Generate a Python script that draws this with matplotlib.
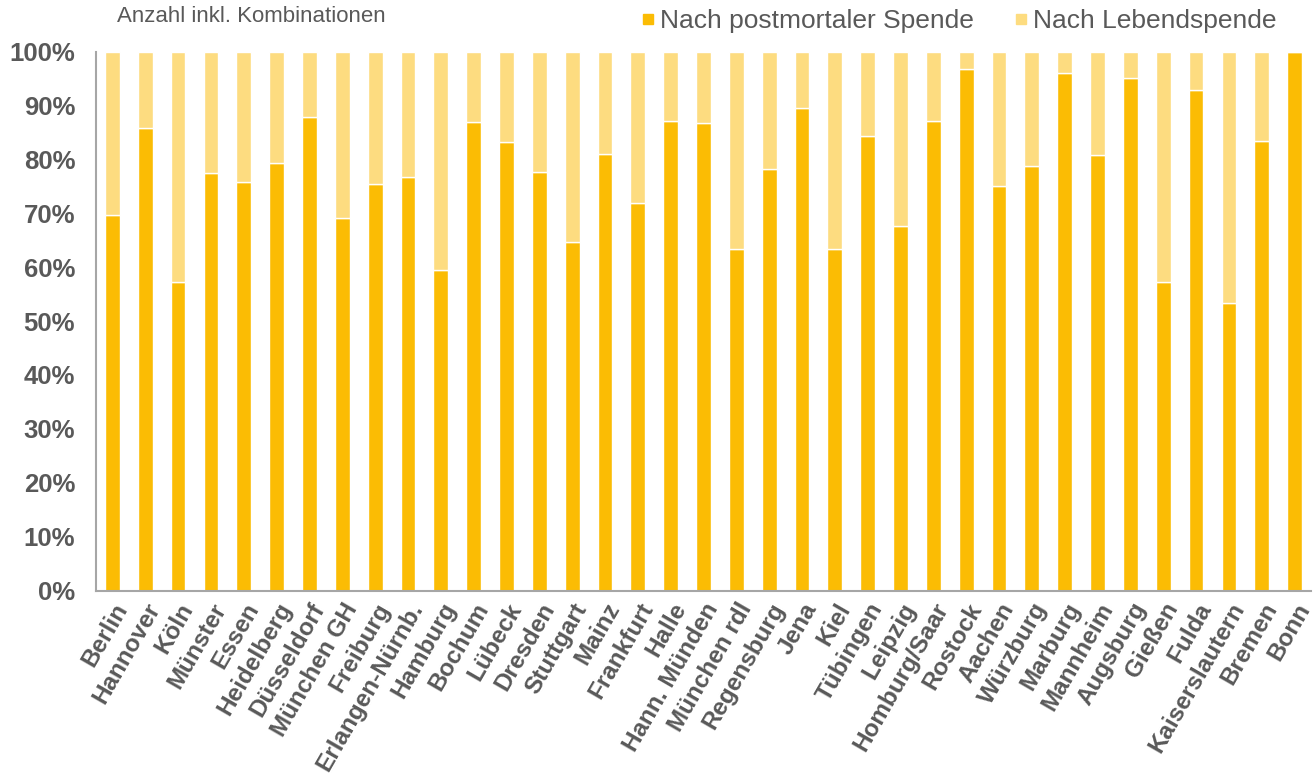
import matplotlib
matplotlib.use("Agg")
import matplotlib.pyplot as plt
from matplotlib.lines import Line2D
from matplotlib.ticker import PercentFormatter

categories = ["Berlin", "Hannover", "Köln", "Münster", "Essen", "Heidelberg", "Düsseldorf",
              "München GH", "Freiburg", "Erlangen-Nürnb.", "Hamburg", "Bochum", "Lübeck",
              "Dresden", "Stuttgart", "Mainz", "Frankfurt", "Halle", "Hann. Münden",
              "München rdl", "Regensburg", "Jena", "Kiel", "Tübingen", "Leipzig",
              "Homburg/Saar", "Rostock", "Aachen", "Würzburg", "Marburg", "Mannheim",
              "Augsburg", "Gießen", "Fulda", "Kaiserslautern", "Bremen", "Bonn"]

postmortal = [69.7, 85.9, 57.3, 77.4, 75.9, 79.3, 87.8, 69.1, 75.5, 76.7, 59.4, 86.9, 83.2,
              77.7, 64.7, 81.0, 71.9, 87.1, 86.8, 63.4, 78.2, 89.6, 63.3, 84.4, 67.7,
              87.2, 96.7, 75.1, 78.7, 96.1, 80.8, 95.1, 57.2, 92.9, 53.4, 83.5, 100.0]
lebend = [100.0 - v for v in postmortal]

series_names = ["Nach postmortaler Spende", "Nach Lebendspende"]
yticks = [0, 10, 20, 30, 40, 50, 60, 70, 80, 90, 100]

dark = "#FBBC04"
light = "#FDDC80"
text_col = "#595959"

plt.rcParams['font.family'] = ['Liberation Sans', 'DejaVu Sans']

fig = plt.figure(figsize=(13.15, 7.76), dpi=100)
ax = fig.add_axes([96/1315, 1 - 590.5/776, (1311 - 96)/1315, (590.5 - 51.7)/776])

x = list(range(len(categories)))
ax.bar(x, postmortal, width=0.45, color=dark, edgecolor="white", linewidth=1.0)
ax.bar(x, lebend, bottom=postmortal, width=0.45, color=light, edgecolor="white", linewidth=1.0)

ax.set_xlim(-0.5, len(categories) - 0.5)
ax.set_ylim(0, 100)
ax.set_yticks(yticks)
ax.yaxis.set_major_formatter(PercentFormatter(decimals=0))
ax.set_xticks(x)
ax.set_xticklabels(categories, rotation=60, ha="right", va="top", rotation_mode="anchor",
                   fontsize=17.5, fontweight="bold", color=text_col)
for lab in ax.get_yticklabels():
    lab.set_fontsize(18.5)
    lab.set_fontweight("bold")
    lab.set_color(text_col)
ax.tick_params(axis="both", length=0)
ax.tick_params(axis="y", pad=15)
ax.tick_params(axis="x", pad=6)

for side in ["top", "right"]:
    ax.spines[side].set_visible(False)
for side in ["left", "bottom"]:
    ax.spines[side].set_color("#A6A6A6")
    ax.spines[side].set_linewidth(1.5)

fig.text(117/1315, 1 - 17/776, "Anzahl inkl. Kombinationen", fontsize=16,
         color=text_col, ha="left", va="center")

handles = [Line2D([], [], marker="s", linestyle="none", markersize=7, color=dark),
           Line2D([], [], marker="s", linestyle="none", markersize=7, color=light)]
leg = fig.legend(handles, series_names, loc="center right",
                 bbox_to_anchor=(1290/1315, 1 - 21/776), ncol=2, frameon=False,
                 fontsize=19, handletextpad=0.05, columnspacing=1.4, borderpad=0,
                 handlelength=0.8)
for t in leg.get_texts():
    t.set_color(text_col)

fig.savefig("out.png", dpi=100)
